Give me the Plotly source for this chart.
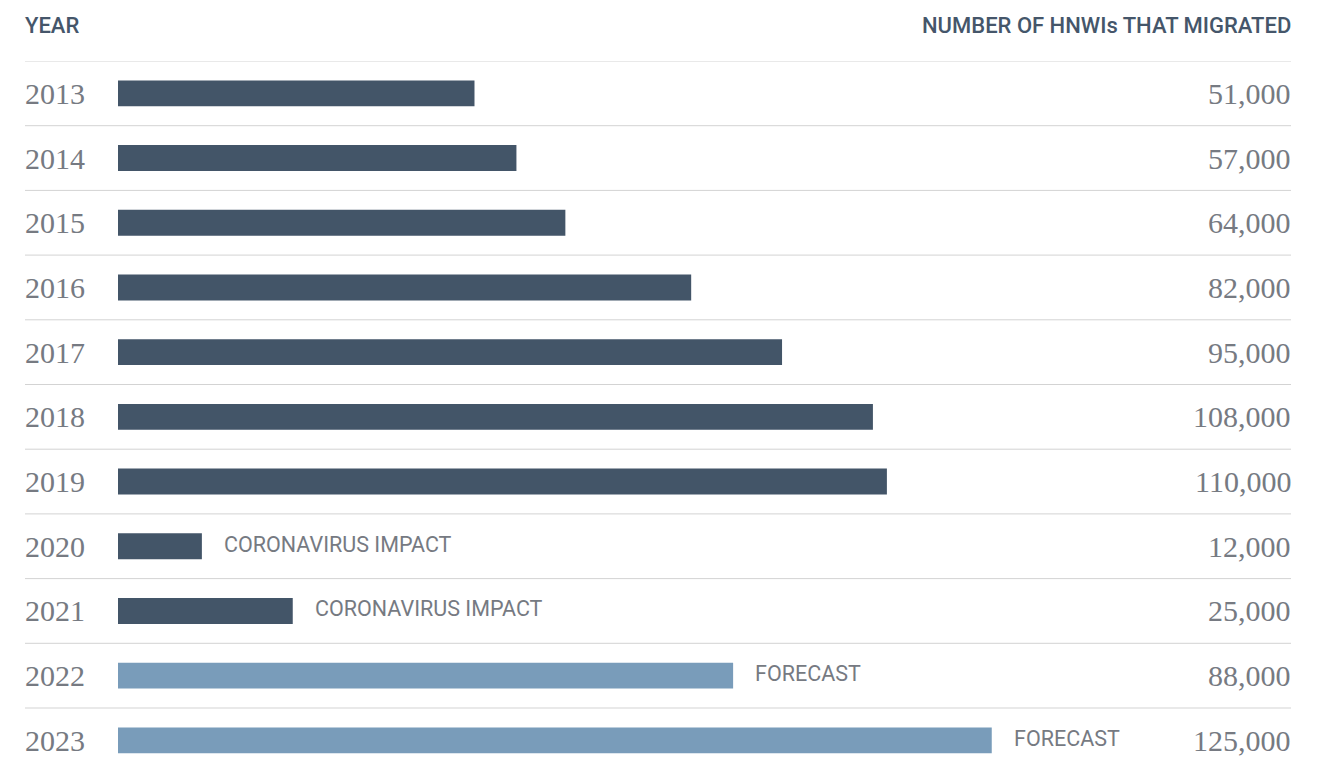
import plotly.graph_objects as go

years = ["2013", "2014", "2015", "2016", "2017", "2018", "2019", "2020", "2021", "2022", "2023"]
migrated = [51000, 57000, 64000, 82000, 95000, 108000, 110000, 12000, 25000, 88000, 125000]
notes = ["", "", "", "", "", "", "", "CORONAVIRUS IMPACT", "CORONAVIRUS IMPACT", "FORECAST", "FORECAST"]
is_forecast = [False] * 9 + [True, True]

DARK = "#435568"
LIGHT = "#799cba"
GREY = "#767a82"
HEAD = "#45566a"

colors = [LIGHT if f else DARK for f in is_forecast]

W, H = 1324, 757
OFF = 8  # page body offset
L, R, T, B = 25 - OFF, 33 + OFF, 61 - OFF, 0
px_per_unit = 0.00699
zero_px = 118 - OFF
xmin = -(zero_px - L) / px_per_unit
xmax = (W - R - zero_px) / px_per_unit
row_px = 64.7
ymax = -0.5 + (H - T - B) / row_px

idx = list(range(len(years)))

fig = go.Figure(
    go.Bar(
        x=migrated,
        y=idx,
        orientation="h",
        marker=dict(color=colors, line=dict(width=0)),
        width=0.40,
        hoverinfo="skip",
    )
)

annotations = []
for i, (yr, v, n) in enumerate(zip(years, migrated, notes)):
    annotations.append(dict(x=0, xref="paper", y=i, yref="y", text=yr, showarrow=False,
                            xanchor="left", yanchor="middle", xshift=-2,
                            font=dict(family="Liberation Serif", size=30, color=GREY)))
    annotations.append(dict(x=1, xref="paper", y=i, yref="y", text=f"{v:,}", showarrow=False,
                            xanchor="right", yanchor="middle", xshift=2,
                            font=dict(family="Liberation Serif", size=30, color=GREY)))
    if n:
        annotations.append(dict(x=v, xref="x", y=i, yref="y", text=n, showarrow=False,
                                xanchor="left", yanchor="middle", xshift=20, yshift=2,
                                font=dict(family="Roboto", size=21.5, color=GREY, weight=400)))

head_y = 1 + 36 / (H - T - B)
annotations.append(dict(x=0, xref="paper", y=head_y, yref="paper", text="YEAR", showarrow=False,
                        xanchor="left", yanchor="middle", xshift=-2,
                        font=dict(family="Roboto", size=22, color=HEAD, weight=500)))
annotations.append(dict(x=1, xref="paper", y=head_y, yref="paper", text="NUMBER OF HNWIs THAT MIGRATED",
                        showarrow=False, xanchor="right", yanchor="middle", xshift=2,
                        font=dict(family="Roboto", size=22, color=HEAD, weight=500)))

shapes = []
for i in range(len(years) + 1):
    shapes.append(dict(type="line", xref="paper", x0=0, x1=1, yref="y", y0=i - 0.5, y1=i - 0.5,
                       line=dict(color="#d3d3d3", width=1), layer="below"))

fig.update_layout(
    width=W, height=H,
    margin=dict(l=L, r=R, t=T, b=B),
    paper_bgcolor="white", plot_bgcolor="white",
    showlegend=False,
    xaxis=dict(range=[xmin, xmax], visible=False, fixedrange=True),
    yaxis=dict(range=[ymax, -0.5], visible=False, fixedrange=True),
    annotations=annotations,
    shapes=shapes,
)

fig.write_html("out.html")
